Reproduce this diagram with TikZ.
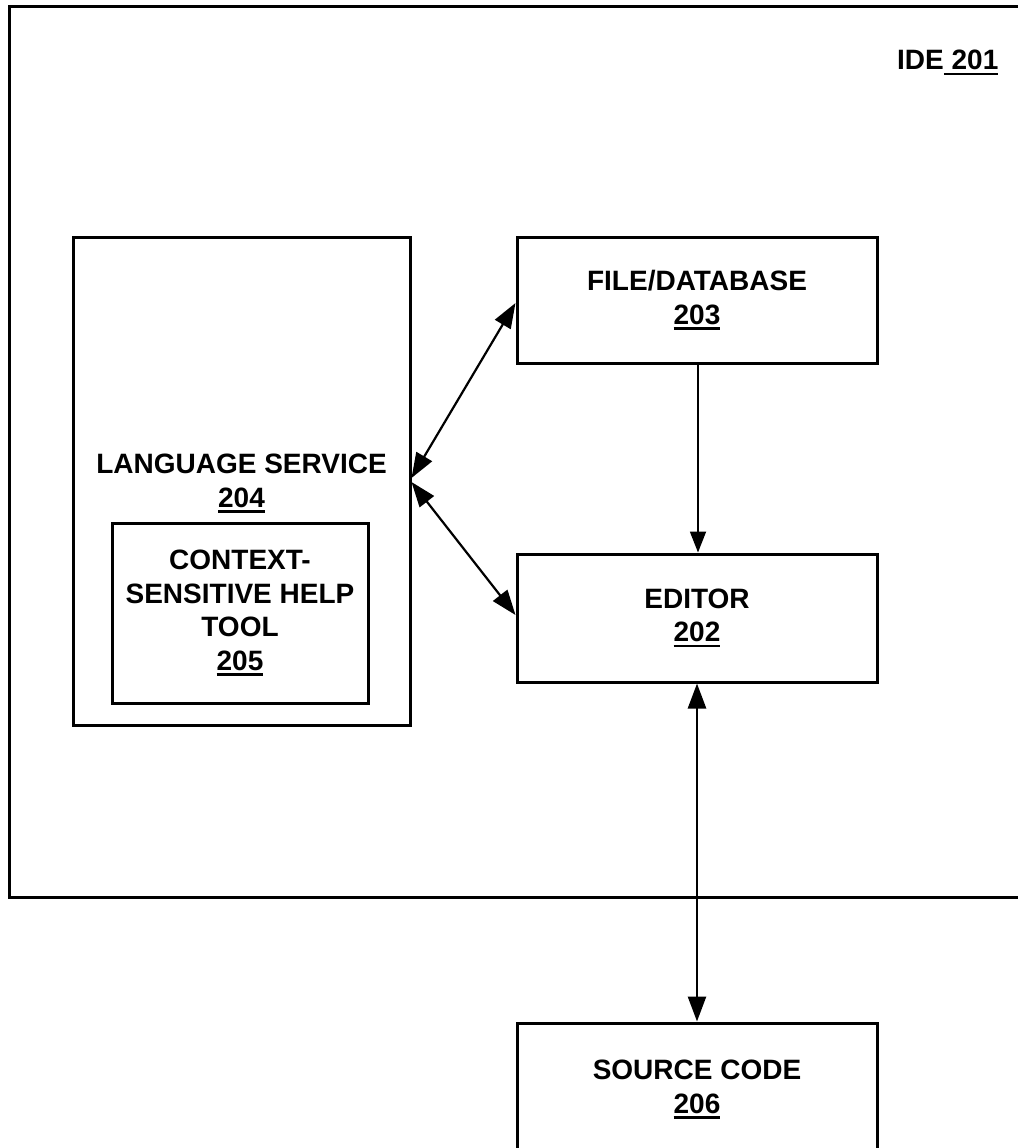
\documentclass[tikz,border=0pt]{standalone}
\usepackage{fontspec}
\setmainfont{Liberation Sans}
\usetikzlibrary{arrows.meta,calc}
\newcommand\ulnum[1]{\setbox0\hbox{#1}\rlap{\rule[-5.5pt]{\wd0}{2.6pt}}\box0}
\tikzset{
  boxline/.style={line width=3pt, line join=miter},
  blockbox/.style={draw, boxline, rectangle, inner sep=0pt, align=center,
     font=\fontsize{28}{33.6}\selectfont\bfseries},
  txt/.style={inner sep=0pt, align=center, font=\fontsize{28}{33.6}\selectfont\bfseries},
  tip/.style={-{Triangle[length=21pt,width=16pt]}},
  dbltip/.style={{Triangle[length=25pt,width=18pt]}-{Triangle[length=25pt,width=18pt]}},
}
\begin{document}
\begin{tikzpicture}[x=1pt,y=-1pt]
\useasboundingbox (0,0) rectangle (1017,1148);
% IDE outline (open at right)
\draw[boxline] (1030,7) -- (9,7) -- (9,897) -- (1030,897);
\node[txt, anchor=base west] (ide) at (897,70) {IDE\ulnum{ 201}};
% Language service
\node[blockbox, minimum width=337pt, minimum height=488pt] (ls) at (241.5,481) {};
\node[txt] (lstext) at (241.5,483.5) {LANGUAGE SERVICE\\\ulnum{204}};
\node[blockbox, minimum width=256pt, minimum height=180pt] (cs) at (240,613)
  {CONTEXT-\\SENSITIVE HELP\\TOOL\\\ulnum{205}};
% File/Database
\node[blockbox, minimum width=360pt, minimum height=126pt] (fd) at (697,300)
  {FILE/DATABASE\\\ulnum{203}};
% Editor
\node[blockbox, minimum width=360pt, minimum height=128pt] (ed) at (697,618)
  {EDITOR\\\ulnum{202}};
% Source code
\node[blockbox, minimum width=360pt, minimum height=133pt] (sc) at (697,1089.5)
  {SOURCE CODE\\\ulnum{206}};
% Connectors
\draw[dbltip, line width=2.2pt] ([yshift=3pt]ls.east) -- ([yshift=-3pt]fd.west);
\draw[dbltip, line width=2.2pt] ([yshift=-1pt]ls.east) -- ([yshift=3pt]ed.west);
\draw[tip, line width=1.8pt] ([xshift=1pt]fd.south) -- ([xshift=1pt]ed.north);
\draw[dbltip, line width=2.6pt] (ed.south) -- (sc.north);
\end{tikzpicture}
\end{document}
